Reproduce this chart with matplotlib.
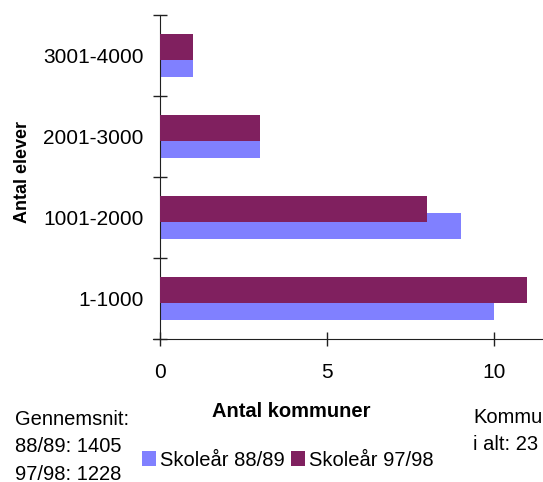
import numpy as np
import matplotlib
matplotlib.use("Agg")
import matplotlib.pyplot as plt

plt.rcParams['font.family'] = ['Liberation Sans', 'DejaVu Sans']

# Data
kategorier = ['1-1000', '1001-2000', '2001-3000', '3001-4000']
skoleaar_8889 = [10, 9, 3, 1]
skoleaar_9798 = [11, 8, 3, 1]
gennemsnit = ['Gennemsnit:', '88/89: 1405', '97/98: 1228']
kommuner_tekst = ['Kommuner', 'i alt: 23']

farve_8889 = '#8080FF'
farve_9798 = '#80205F'

fig = plt.figure(figsize=(5.43, 4.82), dpi=100)
ax = fig.add_axes([160 / 543, 143 / 482, 383 / 543, 324 / 482])

y = np.arange(len(kategorier))
h = 0.32
off = 0.105
ax.barh(y - off, skoleaar_8889, height=h, color=farve_8889, label='Skoleår 88/89', zorder=2)
ax.barh(y + off, skoleaar_9798, height=h, color=farve_9798, label='Skoleår 97/98', zorder=3)

ax.set_xlim(0, 11.47)
ax.set_ylim(-0.5, 3.5)

# spines
for s in ['top', 'right']:
    ax.spines[s].set_visible(False)
ax.spines['left'].set_color('#202020')
ax.spines['bottom'].set_color('#202020')
ax.spines['bottom'].set_bounds(-0.2, 11.47)

# x ticks
ax.set_xticks([0, 5, 10])
ax.tick_params(axis='x', direction='inout', length=10, width=1, color='#202020',
               labelsize=15, pad=12)

# y ticks: boundaries as major, labels as minor
ax.set_yticks(np.arange(-0.5, 4, 1))
ax.set_yticklabels([])
ax.set_yticks(y, minor=True)
ax.set_yticklabels(kategorier, minor=True)
ax.tick_params(axis='y', which='major', direction='inout', length=10, width=1, color='#202020')
ax.tick_params(axis='y', which='minor', length=0, labelsize=15, pad=12)

# labels
fig.text(291 / 543, 1 - 417 / 482, 'Antal kommuner', ha='center', va='baseline',
         fontsize=14.5, fontweight='bold')
fig.text(23 / 543, 1 - 172 / 482, 'Antal elever', ha='center', va='center',
         fontsize=13, fontweight='bold', rotation=90)

for i, linje in enumerate(gennemsnit):
    fig.text(15 / 543, 1 - (425 + 27.5 * i) / 482, linje, ha='left', va='baseline',
             fontsize=14.5)

for i, linje in enumerate(kommuner_tekst):
    fig.text(473 / 543, 1 - (423 + 27 * i) / 482, linje, ha='left', va='baseline',
             fontsize=14.5)

fig.legend(loc='center', bbox_to_anchor=(288 / 543, 1 - 460 / 482), ncol=2, frameon=False,
           fontsize=14.5, handlelength=0.7, handleheight=0.7, handletextpad=0.2,
           columnspacing=0.3, borderaxespad=0, borderpad=0)

fig.savefig('out.png', dpi=100)
